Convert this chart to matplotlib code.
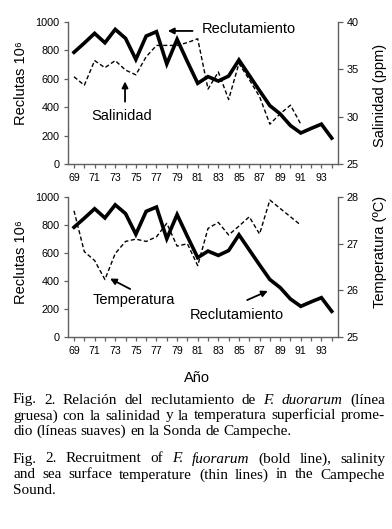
import matplotlib
matplotlib.use('Agg')
import matplotlib.pyplot as plt
from matplotlib.ticker import FixedLocator

# ---------------- data ----------------
years = list(range(69, 95))
recruitment = [785, 850, 918, 852, 946, 883, 735, 899, 930, 703, 876, 719, 567,
               614, 583, 618, 731, 623, 515, 410, 352, 270, 218, 250, 280, 182]
env_years = list(range(69, 92))
salinity = [34.2, 33.3, 35.9, 35.15, 35.9, 34.9, 34.4, 36.3, 37.5, 37.5, 37.5, 37.8,
            38.2, 32.9, 34.7, 31.8, 35.6, 33.9, 32.1, 29.2, 30.3, 31.2, 29.2]
temperature = [27.71, 26.83, 26.64, 26.23, 26.79, 27.05, 27.10, 27.05, 27.15, 27.44,
               26.95, 27.0, 26.53, 27.33, 27.46, 27.19, 27.38, 27.58, 27.21, 27.94,
               27.76, 27.58, 27.40]
major_years = list(range(69, 95, 2))
minor_years = list(range(70, 95, 2))
left_ticks = [0, 200, 400, 600, 800, 1000]
sal_ticks = [25, 30, 35, 40]
temp_ticks = [25, 26, 27, 28]

plt.rcParams['font.family'] = ['Liberation Sans', 'DejaVu Sans']

W, H = 392, 529
fig = plt.figure(figsize=(W / 100, H / 100), dpi=100)
fig.patch.set_facecolor('white')

SPINE = '#606060'
XL = (68.37, 94.56)


def style_axes(ax, twin, rticks, rlim, rlabel, rlabel_y, llabel_y):
    ax.set_xlim(*XL)
    ax.set_ylim(0, 1000)
    twin.set_ylim(*rlim)
    for a in (ax, twin):
        a.spines['top'].set_visible(False)
        for s in a.spines.values():
            s.set_color(SPINE)
            s.set_linewidth(1.0)
    ax.spines['right'].set_visible(False)
    twin.spines['left'].set_visible(False)
    twin.spines['bottom'].set_visible(False)
    ax.xaxis.set_major_locator(FixedLocator(major_years))
    ax.xaxis.set_minor_locator(FixedLocator(minor_years))
    ax.set_xticklabels([str(y) for y in major_years])
    ax.yaxis.set_major_locator(FixedLocator(left_ticks))
    twin.yaxis.set_major_locator(FixedLocator(rticks))
    ax.tick_params(axis='x', which='both', direction='out', length=3.2, width=0.9,
                   color=SPINE, labelsize=7.6, pad=3.5)
    ax.tick_params(axis='y', direction='out', length=3.2, width=0.9, color=SPINE,
                   labelsize=7.8, pad=2.5)
    twin.tick_params(axis='y', direction='out', length=3.8, width=0.9, color=SPINE,
                     labelsize=7.8, pad=2.5)
    ax.set_ylabel('Reclutas 10\u2076', fontsize=10.5)
    ax.yaxis.set_label_coords(-0.148, llabel_y)
    twin.set_ylabel(rlabel, fontsize=10.5, rotation=90)
    twin.yaxis.set_label_coords(1.133, rlabel_y)


# ---------------- top panel ----------------
ax1 = fig.add_axes([67.5 / W, 1 - 164 / H, 270 / W, 142.3 / H])
tw1 = ax1.twinx()
style_axes(ax1, tw1, sal_ticks, (25, 40), 'Salinidad (ppm)', 0.48, 0.57)
tw1.plot(env_years, salinity, color='black', lw=1.0, ls=(0, (3, 1.8)))
ax1.plot(years, recruitment, color='black', lw=2.6, solid_joinstyle='miter')
ax1.set_zorder(tw1.get_zorder() + 1)
ax1.patch.set_visible(False)

arrow = dict(arrowstyle='-|>', color='black', lw=1.3, mutation_scale=9,
             shrinkA=0, shrinkB=0)
ax1.annotate('', xy=(78.1, 935), xytext=(80.5, 935), arrowprops=arrow)
ax1.text(81.4, 948, 'Reclutamiento', fontsize=10.5, ha='left', va='center')
ax1.annotate('', xy=(73.95, 580), xytext=(73.95, 438), arrowprops=arrow)
ax1.text(70.7, 337, 'Salinidad', fontsize=10.5, ha='left', va='center')

# ---------------- bottom panel ----------------
ax2 = fig.add_axes([67.5 / W, 1 - 336.7 / H, 270 / W, 139.4 / H])
tw2 = ax2.twinx()
style_axes(ax2, tw2, temp_ticks, (25, 28), 'Temperatura (ºC)', 0.61, 0.536)
tw2.plot(env_years, temperature, color='black', lw=1.0, ls=(0, (3, 1.8)))
ax2.plot(years, recruitment, color='black', lw=2.6, solid_joinstyle='miter')
ax2.set_zorder(tw2.get_zorder() + 1)
ax2.patch.set_visible(False)

ax2.annotate('', xy=(72.5, 417), xytext=(74.45, 342), arrowprops=arrow)
ax2.text(70.84, 263, 'Temperatura', fontsize=10.5, ha='left', va='center')
ax2.annotate('', xy=(87.8, 328), xytext=(85.8, 263), arrowprops=arrow)
ax2.text(80.25, 156, 'Reclutamiento', fontsize=10.5, ha='left', va='center')

fig.text(197 / W, 1 - 378 / H, 'Año', fontsize=10.5, ha='center', va='center')

# ---------------- caption (justified) ----------------
renderer = fig.canvas.get_renderer()
CAP_FONT = 'Liberation Serif'
CAP_SIZE = 11
X0, X1 = 13, 385

caption_lines = [
    ([('Fig.', 0), ('2.', 0), ('Relación', 0), ('del', 0), ('reclutamiento', 0), ('de', 0),
      ('F.', 1), ('duorarum', 1), ('(línea', 0)], 403.5, True),
    ([('gruesa)', 0), ('con', 0), ('la', 0), ('salinidad', 0), ('y', 0), ('la', 0),
      ('temperatura', 0), ('superficial', 0), ('prome-', 0)], 419.5, True),
    ([('dio', 0), ('(líneas', 0), ('suaves)', 0), ('en', 0), ('la', 0), ('Sonda', 0),
      ('de', 0), ('Campeche.', 0)], 435.3, False),
    ([('Fig.', 0), ('2.', 0), ('Recruitment', 0), ('of', 0), ('F.', 1), ('fuorarum', 1),
      ('(bold', 0), ('line),', 0), ('salinity', 0)], 462.5, True),
    ([('and', 0), ('sea', 0), ('surface', 0), ('temperature', 0), ('(thin', 0), ('lines)', 0),
      ('in', 0), ('the', 0), ('Campeche', 0)], 478.5, True),
    ([('Sound.', 0)], 494.0, False),
]

space_px = 0.25 * CAP_SIZE * 100 / 72
for words, base_y, justify in caption_lines:
    texts = []
    widths = []
    for w, it in words:
        t = fig.text(0, 1 - base_y / H, w, fontsize=CAP_SIZE, family=CAP_FONT,
                     style='italic' if it else 'normal', ha='left', va='baseline')
        texts.append(t)
        widths.append(t.get_window_extent(renderer).width)
    if justify and len(words) > 1:
        gap = (X1 - X0 - sum(widths)) / (len(words) - 1)
    else:
        gap = space_px
    x = X0
    for t, wd in zip(texts, widths):
        t.set_x(x / W)
        x += wd + gap

fig.savefig('out.png', dpi=100, facecolor='white')
